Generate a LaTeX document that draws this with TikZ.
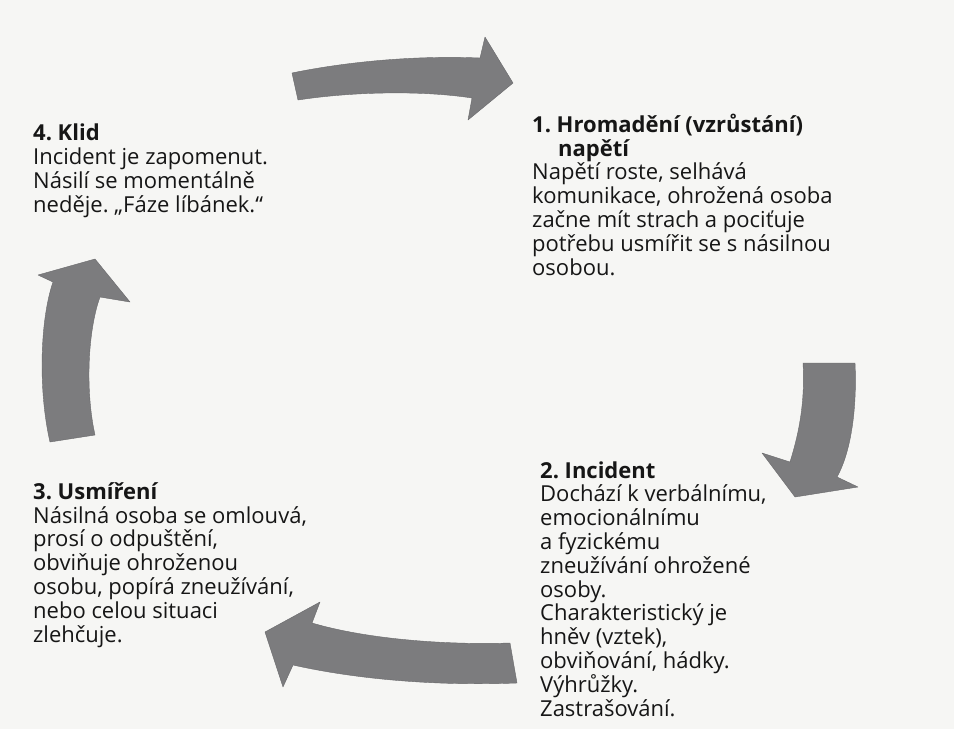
\documentclass[tikz,border=0pt]{standalone}
\usepackage{fontspec}
\setmainfont{Open Sans}
\usepackage{tikz}
\usetikzlibrary{positioning}

\definecolor{paper}{RGB}{246,246,244}
\definecolor{arrowgray}{RGB}{124,124,126}
\definecolor{ink}{RGB}{22,22,22}

% nodes are anchored at the baseline of their last line
\tikzset{
  phase/.style={anchor=base west, align=left, inner sep=0pt, text=ink,
    font=\fontsize{22}{23.8}\selectfont\frenchspacing},
  cyclearrow/.style={fill=arrowgray, draw=arrowgray!85!black, line width=0.4pt, line join=round}
}

\begin{document}
\begin{tikzpicture}[x=1pt, y=-1pt]

  % Page
  \fill[paper] (0,0) rectangle (954,729);
  \useasboundingbox (0,0) rectangle (954,729);

  % Arrows
  \filldraw[cyclearrow] (292,73) .. controls (340,63) and (410,55) .. (480,58) -- (485,37) -- (513,83) -- (468,120) -- (472,98)
    .. controls (420,90) and (350,92) .. (298,100) -- cycle;
  \filldraw[cyclearrow] (803,363) -- (855,363) .. controls (857,405) and (852,450) .. (837,477) -- (858,487) -- (795,497)
    -- (762,453) -- (790,462) .. controls (800,430) and (805,400) .. cycle;
  \filldraw[cyclearrow] (510,643) .. controls (450,645) and (370,640) .. (312,623) -- (320,602) -- (265,632) -- (283,687)
    -- (293,665) .. controls (360,680) and (440,686) .. (517,683) -- cycle;
  \filldraw[cyclearrow] (50,442) -- (95,435) .. controls (85,390) and (88,330) .. (100,297) -- (130,302) -- (95,259)
    -- (38,275) -- (53,282) .. controls (40,320) and (38,390) .. cycle;

  % Phases
  \node[phase] (tension) at (532,275) {\textbf{1. Hromadění (vzrůstání)}\\\hspace*{26pt}\textbf{napětí}\\
    Napětí roste, selhává\\komunikace, ohrožená osoba\\začne mít strach a pociťuje\\potřebu usmířit se s násilnou\\osobou.};
  \node[phase] (incident) at (540,716) {\textbf{2. Incident}\\Dochází k verbálnímu,\\emocionálnímu\\a fyzickému\\
    zneužívání ohrožené\\osoby.\\Charakteristický je\\hněv (vztek),\\obviňování, hádky.\\Výhrůžky.\\Zastrašování.};
  \node[phase] (reconcile) at (33,642) {\textbf{3. Usmíření}\\Násilná osoba se omlouvá,\\prosí o odpuštění,\\
    obviňuje ohroženou\\osobu, popírá zneužívání,\\nebo celou situaci\\zlehčuje.};
  \node[phase] (calm) at (33,212) {\textbf{4. Klid}\\Incident je zapomenut.\\Násilí se momentálně\\neděje. „Fáze líbánek.“};

\end{tikzpicture}
\end{document}
